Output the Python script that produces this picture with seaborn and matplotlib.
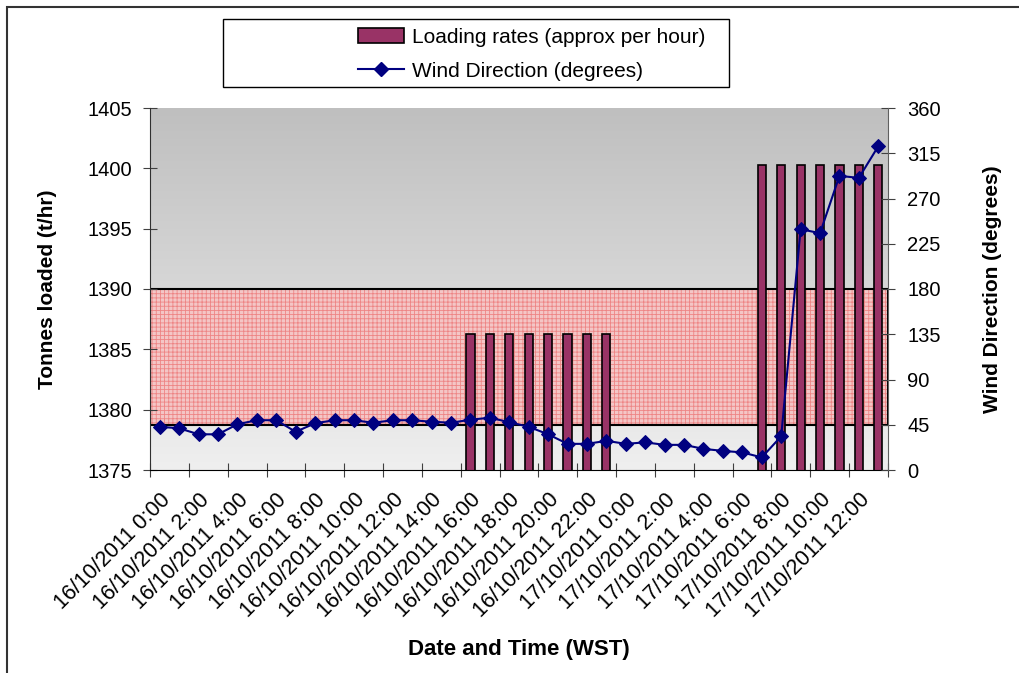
import matplotlib
matplotlib.use('Agg')
import matplotlib.pyplot as plt
from matplotlib.patches import Patch, Rectangle
from matplotlib.lines import Line2D
import numpy as np
import pandas as pd
import seaborn as sns

# hourly categories, 16/10/2011 0:00 .. 17/10/2011 13:00
hours = ['16/10/2011 %d:00' % h for h in range(24)] + ['17/10/2011 %d:00' % h for h in range(14)]

# loading rates (t/hr), only for the hours a ship was loading
load_hours = hours[16:24] + hours[31:38]
load_rates = [1386.3] * 8 + [1400.3] * 7

# wind direction (degrees), one reading per hour
wind_dir = [43, 41.5, 35.5, 35.5, 45.5, 49.5, 49.5, 38, 46.5, 49.5,
            49.5, 47, 49.5, 49.5, 48, 47, 50, 52, 47.5, 43,
            35.5, 26, 26, 29, 26, 27.5, 25, 25, 21, 19,
            17.5, 12.5, 33.5, 239.5, 235.5, 292.5, 290.5, 322]

# wind sector shaded on the chart (degrees)
band_deg = (45, 180)

plt.rcParams['font.family'] = ['Liberation Sans', 'DejaVu Sans']
plt.rcParams['hatch.linewidth'] = 0.6
plt.rcParams['font.size'] = 14.5

fig = plt.figure(figsize=(10.19, 6.73), dpi=100)
ax1 = fig.add_axes([150 / 1019, 1 - 470 / 673, 738 / 1019, 362 / 673])
ax2 = ax1.twinx()

ymin, ymax = 1375, 1405

# gray gradient background, darker at the top
grad = np.linspace(191, 239, 256) / 255
img = np.dstack([grad, grad, grad]).reshape(256, 1, 3)
ax1.imshow(img, extent=[0, 1, 0, 1], transform=ax1.transAxes, aspect='auto',
           origin='upper', zorder=0, interpolation='bicubic')

# shaded wind band, converted to the left axis scale
b0 = ymin + band_deg[0] / 360 * (ymax - ymin)
b1 = ymin + band_deg[1] / 360 * (ymax - ymin)
ax1.axhspan(b0, b1, facecolor='#f4c6c6', edgecolor='#ee8585', lw=0, hatch='++++', zorder=1)
ax1.axhspan(b0, b1, fill=False, edgecolor='black', lw=1.5, zorder=1.1)

df = pd.DataFrame({'hour': load_hours, 'rate': load_rates})
sns.barplot(data=df, x='hour', y='rate', order=hours, ax=ax1, color='#993366',
            saturation=1, edgecolor='black', linewidth=1.2, width=0.42, zorder=2)

sns.lineplot(x=np.arange(len(hours)), y=wind_dir, ax=ax2, color='#000080',
             marker='D', markersize=7, markeredgecolor='#000080', linewidth=1.5)

ax1.set_ylim(ymin, ymax)
ax2.set_ylim(0, 360)
ax1.set_xlim(-0.5, len(hours) - 0.5)
ax1.set_yticks(np.arange(1375, 1406, 5))
ax2.set_yticks(np.arange(0, 361, 45))

ax1.set_xticks(np.arange(-0.5, len(hours), 2))
ax1.set_xticklabels([])
ax1.set_xticks(np.arange(0, len(hours), 2), minor=True)
ax1.set_xticklabels(hours[::2], minor=True, rotation=45, ha='right', va='top',
                    rotation_mode='anchor')
ax1.tick_params(axis='x', which='minor', length=0, pad=14, labelsize=15.5)
ax1.tick_params(axis='x', which='major', direction='inout', length=10, color='#404040')
ax1.tick_params(axis='y', direction='inout', length=10, color='#404040', pad=8, labelsize=14.5)
ax2.tick_params(axis='y', direction='inout', length=10, color='#404040', pad=9, labelsize=14.5)

for ax in (ax1, ax2):
    for s in ax.spines.values():
        s.set_visible(False)
ax1.spines['left'].set_visible(True)
ax1.spines['bottom'].set_visible(True)
ax2.spines['right'].set_visible(True)
ax1.spines['left'].set_color('#303030')
ax1.spines['bottom'].set_color('black')
ax2.spines['right'].set_color('#606060')

ax1.set_xlabel('Date and Time (WST)', fontsize=16, fontweight='bold', labelpad=12)
ax1.set_ylabel('Tonnes loaded (t/hr)', fontsize=15, fontweight='bold', labelpad=22)
ax2.set_ylabel('Wind Direction (degrees)', fontsize=15, fontweight='bold', labelpad=30)

# legend box at the top
fig.patches.append(Rectangle((223 / 1019, 1 - 87 / 673), 506 / 1019, 68 / 673,
                             transform=fig.transFigure, fill=False, edgecolor='black', lw=1))
handles = [Patch(facecolor='#993366', edgecolor='black', lw=1.2),
           Line2D([], [], color='#000080', marker='D', markersize=7, lw=1.5)]
fig.legend(handles, ['Loading rates (approx per hour)', 'Wind Direction (degrees)'],
           loc='upper left', bbox_to_anchor=(358 / 1019, 1 - 28 / 673), frameon=False,
           borderpad=0, borderaxespad=0, handlelength=2.2, handletextpad=0.4,
           labelspacing=0.7, fontsize=15)

# outer chart border
fig.patches.append(Rectangle((7 / 1019, -0.1), 1.2, 1.1 - 7 / 673,
                             transform=fig.transFigure, fill=False, edgecolor='#333333', lw=1.5))

fig.savefig('out.png', dpi=100)
